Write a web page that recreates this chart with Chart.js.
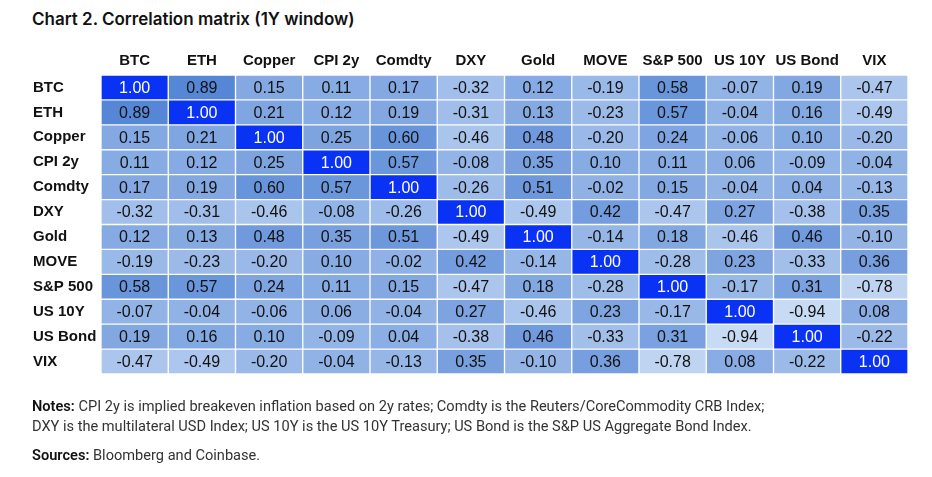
<!DOCTYPE html>
<html>
<head>
<meta charset="utf-8">
<script src="https://cdn.jsdelivr.net/npm/chart.js@4.4.1/dist/chart.umd.min.js"></script>
<style>
  html, body { margin: 0; padding: 0; background: #fff; }
  body { width: 932px; height: 477px; position: relative; overflow: hidden; }
  #title { position: absolute; left: 32px; top: 9px; font: 600 17px Inter, sans-serif; color: #111; }
  #wrap { position: absolute; left: 0; top: 0; width: 932px; height: 477px; }
  .note { position: absolute; left: 32px; font: 14.6px Roboto, sans-serif; color: #333; white-space: nowrap; }
  .note b { font-weight: 600; color: #111; }
</style>
</head>
<body>
<div id="title">Chart 2. Correlation matrix (1Y window)</div>
<div id="wrap"><canvas id="chart"></canvas></div>
<div class="note" style="top:397px"><b>Notes:</b> CPI 2y is implied breakeven inflation based on 2y rates; Comdty is the Reuters/CoreCommodity CRB Index;</div>
<div class="note" style="top:417px">DXY is the multilateral USD Index; US 10Y is the US 10Y Treasury; US Bond is the S&amp;P US Aggregate Bond Index.</div>
<div class="note" style="top:446px"><b>Sources:</b> Bloomberg and Coinbase.</div>
<script>
const assets = ['BTC', 'ETH', 'Copper', 'CPI 2y', 'Comdty', 'DXY', 'Gold', 'MOVE', 'S&P 500', 'US 10Y', 'US Bond', 'VIX'];

const btcRow    = [1.00, 0.89, 0.15, 0.11, 0.17, -0.32, 0.12, -0.19, 0.58, -0.07, 0.19, -0.47];
const ethRow    = [0.89, 1.00, 0.21, 0.12, 0.19, -0.31, 0.13, -0.23, 0.57, -0.04, 0.16, -0.49];
const copperRow = [0.15, 0.21, 1.00, 0.25, 0.60, -0.46, 0.48, -0.20, 0.24, -0.06, 0.10, -0.20];
const cpiRow    = [0.11, 0.12, 0.25, 1.00, 0.57, -0.08, 0.35, 0.10, 0.11, 0.06, -0.09, -0.04];
const comdtyRow = [0.17, 0.19, 0.60, 0.57, 1.00, -0.26, 0.51, -0.02, 0.15, -0.04, 0.04, -0.13];
const dxyRow    = [-0.32, -0.31, -0.46, -0.08, -0.26, 1.00, -0.49, 0.42, -0.47, 0.27, -0.38, 0.35];
const goldRow   = [0.12, 0.13, 0.48, 0.35, 0.51, -0.49, 1.00, -0.14, 0.18, -0.46, 0.46, -0.10];
const moveRow   = [-0.19, -0.23, -0.20, 0.10, -0.02, 0.42, -0.14, 1.00, -0.28, 0.23, -0.33, 0.36];
const spxRow    = [0.58, 0.57, 0.24, 0.11, 0.15, -0.47, 0.18, -0.28, 1.00, -0.17, 0.31, -0.78];
const us10yRow  = [-0.07, -0.04, -0.06, 0.06, -0.04, 0.27, -0.46, 0.23, -0.17, 1.00, -0.94, 0.08];
const usBondRow = [0.19, 0.16, 0.10, -0.09, 0.04, -0.38, 0.46, -0.33, 0.31, -0.94, 1.00, -0.22];
const vixRow    = [-0.47, -0.49, -0.20, -0.04, -0.13, 0.35, -0.10, 0.36, -0.78, 0.08, -0.22, 1.00];

const matrix = [btcRow, ethRow, copperRow, cpiRow, comdtyRow, dxyRow, goldRow, moveRow, spxRow, us10yRow, usBondRow, vixRow];

// light blue for the lowest value, mid blue for the highest off-diagonal, bright blue for 1.00
function cellColor(v) {
    if (v >= 0.999) return 'rgb(10,50,245)';
    const lo = [200, 219, 244], hi = [86, 135, 214];
    const t = Math.min(1, Math.max(0, (v + 0.94) / 1.83));
    const c = lo.map((a, i) => Math.round(a + (hi[i] - a) * t));
    return `rgb(${c[0]},${c[1]},${c[2]})`;
}

const datasets = matrix.map((row, r) => ({
    label: assets[r],
    data: row.map(() => [r, r + 1]),
    values: row,
    backgroundColor: row.map(cellColor),
    borderColor: 'rgba(255,255,255,0.16)',
    borderWidth: 1,
    borderSkipped: false,
    categoryPercentage: 1,
    barPercentage: 1,
    grouped: false
}));

const cellText = {
    id: 'cellText',
    afterDatasetsDraw(chart) {
        const ctx = chart.ctx;
        ctx.save();
        ctx.font = '16px "Liberation Sans", Arial, sans-serif';
        ctx.textAlign = 'center';
        ctx.textBaseline = 'middle';
        chart.data.datasets.forEach((ds, i) => {
            chart.getDatasetMeta(i).data.forEach((bar, j) => {
                const v = ds.values[j];
                ctx.fillStyle = v >= 0.999 ? '#fff' : '#111';
                ctx.fillText(v.toFixed(2), bar.x, (bar.y + bar.base) / 2 + 1);
            });
        });
        ctx.restore();
    }
};

new Chart(document.getElementById('chart'), {
    type: 'bar',
    data: { labels: assets, datasets },
    options: {
        responsive: true,
        maintainAspectRatio: false,
        animation: false,
        layout: { padding: { left: 33, top: 45, right: 24, bottom: 103 } },
        plugins: { legend: { display: false }, tooltip: { enabled: false } },
        scales: {
            x: {
                position: 'top',
                grid: { display: false, drawTicks: false },
                border: { display: false },
                ticks: {
                    color: '#111',
                    padding: 5,
                    maxRotation: 0,
                    autoSkip: false,
                    font: { family: '"Liberation Sans", Arial, sans-serif', size: 15, weight: 'bold' }
                },
                afterFit(scale) { scale.height = 30; }
            },
            y: {
                min: 0,
                max: 12,
                reverse: true,
                grid: { display: false, drawTicks: false },
                border: { display: false },
                afterBuildTicks(scale) {
                    scale.ticks = assets.map((_, i) => ({ value: i + 0.5 }));
                },
                ticks: {
                    color: '#111',
                    crossAlign: 'far',
                    autoSkip: false,
                    font: { family: '"Liberation Sans", Arial, sans-serif', size: 15, weight: 'bold' },
                    callback: (value, index) => assets[index]
                },
                afterFit(scale) { scale.width = 68; }
            }
        }
    },
    plugins: [cellText]
});
</script>
</body>
</html>
